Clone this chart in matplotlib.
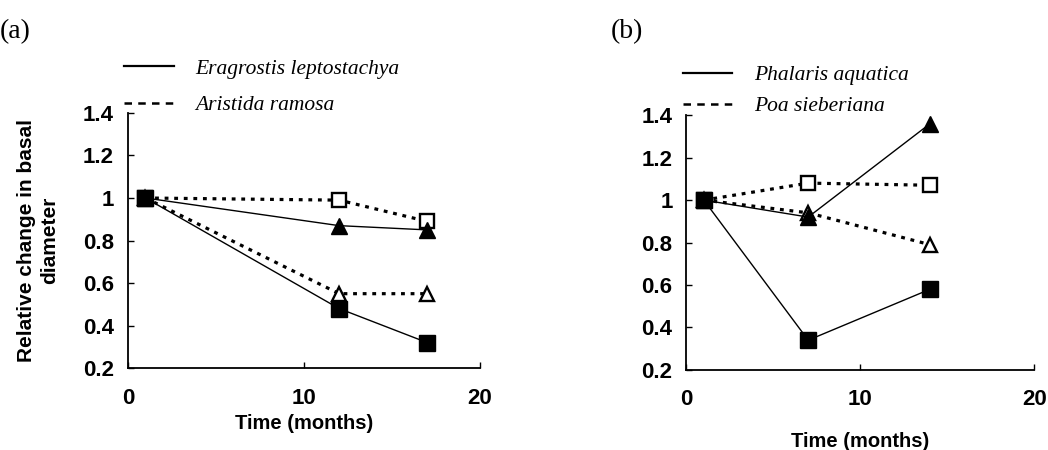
import matplotlib
matplotlib.use("Agg")
import matplotlib.pyplot as plt
from matplotlib.lines import Line2D
from matplotlib.ticker import FuncFormatter

# Panel (a)
months_a = [1, 12, 17]
erag_sq = [1.0, 0.48, 0.32]
erag_tri = [1.0, 0.87, 0.85]
arist_sq = [1.0, 0.99, 0.89]
arist_tri = [1.0, 0.55, 0.55]
species_a = ["Eragrostis leptostachya", "Aristida ramosa"]

# Panel (b)
months_b = [1, 7, 14]
phal_sq = [1.0, 0.34, 0.58]
phal_tri = [1.0, 0.92, 1.36]
poa_sq = [1.0, 1.08, 1.07]
poa_tri = [1.0, 0.94, 0.79]
species_b = ["Phalaris aquatica", "Poa sieberiana"]

sans = "Liberation Sans"
serif = "Liberation Serif"

fig = plt.figure(figsize=(10.48, 4.5), dpi=100)
ax_a = fig.add_axes([0.122, 0.182, 0.336, 0.567])
ax_b = fig.add_axes([0.655, 0.178, 0.332, 0.566])

dot = (0, (1.2, 1.8))


def draw(ax, t, solid_sq, solid_tri, dash_sq, dash_tri):
    ax.plot(t, dash_sq, color="black", lw=2.3, ls=dot, marker="s", ms=10,
            mfc="white", mec="black", mew=1.7, zorder=2)
    ax.plot(t, dash_tri, color="black", lw=2.3, ls=dot, marker="^", ms=10.5,
            mfc="white", mec="black", mew=1.7, zorder=2)
    ax.plot(t, solid_tri, color="black", lw=1.0, marker="^", ms=12,
            mfc="black", mec="black", zorder=3)
    ax.plot(t, solid_sq, color="black", lw=1.0, marker="s", ms=11.5,
            mfc="black", mec="black", zorder=3)

    ax.set_xlim(0, 20)
    ax.set_ylim(0.2, 1.4)
    ax.set_xticks([0, 10, 20])
    ax.set_yticks([0.2, 0.4, 0.6, 0.8, 1.0, 1.2, 1.4])
    ax.yaxis.set_major_formatter(FuncFormatter(lambda v, p: f"{v:g}"))
    for s in ["top", "right"]:
        ax.spines[s].set_visible(False)
    for s in ["left", "bottom"]:
        ax.spines[s].set_linewidth(1.3)
    ax.tick_params(direction="in", length=4, width=1.0)
    ax.tick_params(axis="x", pad=14)
    ax.tick_params(axis="y", pad=10)
    for lab in ax.get_xticklabels() + ax.get_yticklabels():
        lab.set_fontfamily(sans)
        lab.set_fontweight("bold")
        lab.set_fontsize(16)


draw(ax_a, months_a, erag_sq, erag_tri, arist_sq, arist_tri)
draw(ax_b, months_b, phal_sq, phal_tri, poa_sq, poa_tri)

ax_a.set_xlabel("Time (months)", fontfamily=sans, fontweight="bold",
                fontsize=14.5)
ax_a.xaxis.set_label_coords(0.5, -0.18)
ax_b.set_xlabel("Time (months)", fontfamily=sans, fontweight="bold",
                fontsize=14.5)
ax_b.xaxis.set_label_coords(0.5, -0.245)

ax_a.set_ylabel("Relative change in basal\ndiameter", fontfamily=sans,
                fontweight="bold", fontsize=15, linespacing=1.3)
ax_a.yaxis.set_label_coords(-0.195, 0.5)

# legends
for ax, names, y0, sp in [(ax_a, species_a, 0.958, 0.75),
                          (ax_b, species_b, 0.962, 0.5)]:
    handles = [Line2D([], [], color="black", lw=1.6),
               Line2D([], [], color="black", lw=1.8, ls=(0, (3, 2.5)))]
    ax.legend(handles, names, loc="lower left",
              bbox_to_anchor=(-0.035, y0), frameon=False,
              handlelength=2.3, handletextpad=1.0, labelspacing=sp,
              borderaxespad=0,
              prop={"family": serif, "style": "italic", "size": 15.5})

fig.text(0.0, 0.93, "(a)", fontfamily=serif, fontsize=20, va="center")
fig.text(0.583, 0.93, "(b)", fontfamily=serif, fontsize=20, va="center")

fig.savefig("out.png", dpi=100)
